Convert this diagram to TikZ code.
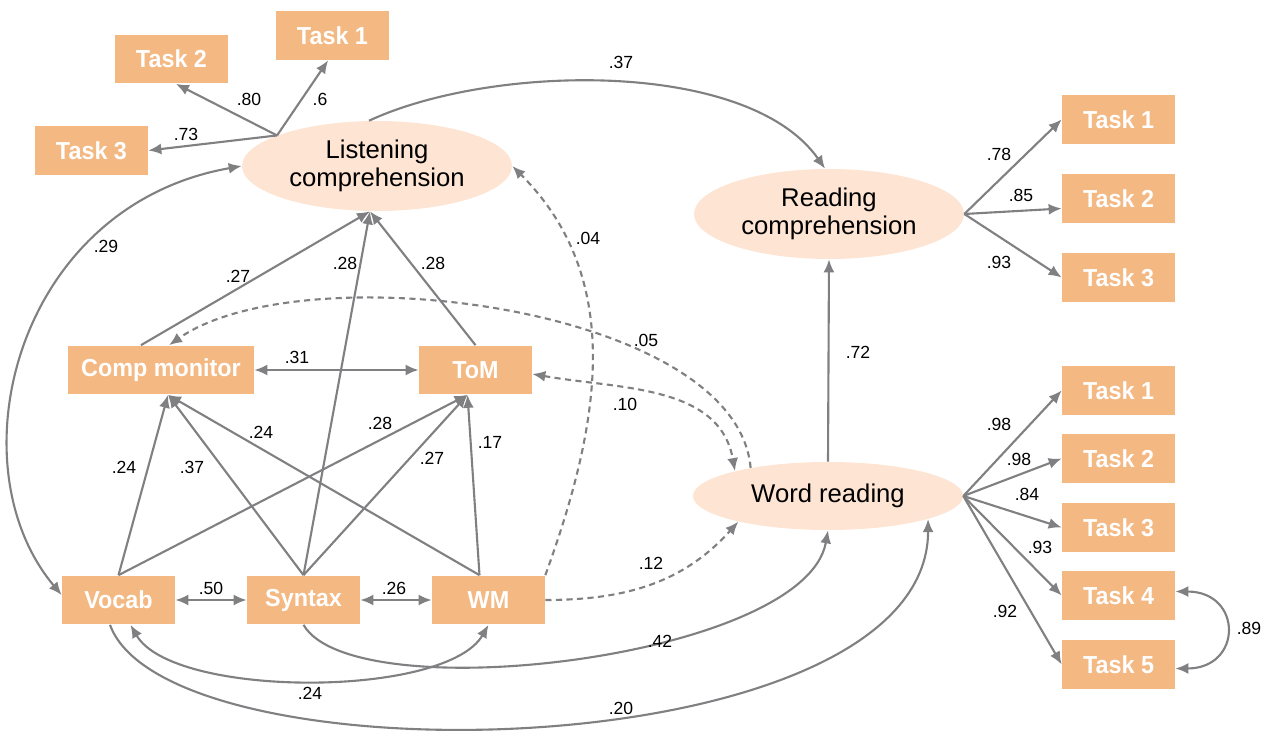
\documentclass[tikz,border=0pt]{standalone}
\usepackage{fontspec}
\setmainfont{Liberation Sans}
\newfontfamily\boxfont{Liberation Sans}[FakeStretch=0.95]
\usetikzlibrary{arrows.meta,shapes.geometric}
\definecolor{boxorange}{RGB}{244,184,130}
\definecolor{latentfill}{RGB}{253,228,211}
\definecolor{linegray}{RGB}{128,127,130}
\tikzset{
  task/.style={fill=boxorange, text=white, font=\boxfont\bfseries\fontsize{14}{16}\selectfont,
    minimum width=2.26cm, minimum height=0.98cm, inner sep=0pt},
  latent/.style={ellipse, fill=latentfill, minimum width=5.4cm, minimum height=1.8cm,
    inner sep=0pt, align=center, font=\fontsize{14.6}{15.8}\selectfont},
  link/.style={draw=linegray, line width=1.2pt, -{Latex[length=2.6mm,width=2.2mm]}},
  cov/.style={link, {Latex[length=2.6mm,width=2.2mm]}-{Latex[length=2.6mm,width=2.2mm]}},
  dlink/.style={link, dash pattern=on 3.5pt off 2.5pt},
  dcov/.style={cov, dash pattern=on 3.5pt off 2.5pt},
  coef/.style={font=\fontsize{10}{12}\selectfont, inner sep=1pt}
}
\begin{document}
\begin{tikzpicture}[x=0.02cm,y=-0.02cm]
  \useasboundingbox (0,0) rectangle (1271,736);

  \node[task] (lt1) at (332.5,35.5) {Task 1};
  \node[task] (lt2) at (171.5,59) {Task 2};
  \node[task] (lt3) at (91.5,150.5) {Task 3};
  \node[latent] (lc) at (377,166) {Listening\\comprehension};
  \node[latent] (rc) at (829,214) {Reading\\comprehension};
  \node[latent, minimum height=1.36cm] (wr) at (828,496) {Word reading};
  \node[task, minimum width=3.72cm] (cm) at (161,370) {Comp monitor};
  \node[task] (tom) at (475.5,370) {ToM};
  \node[task] (vocab) at (118.5,600) {Vocab};
  \node[task] (syntax) at (303.5,600) {Syntax};
  \node[task] (wm) at (488.5,600) {WM};
  \node[task] (rt1) at (1118.5,119.5) {Task 1};
  \node[task] (rt2) at (1118.5,198.5) {Task 2};
  \node[task] (rt3) at (1118.5,277.5) {Task 3};
  \node[task] (wt1) at (1118.5,390.5) {Task 1};
  \node[task] (wt2) at (1118.5,458.5) {Task 2};
  \node[task] (wt3) at (1118.5,527.5) {Task 3};
  \node[task] (wt4) at (1118.5,595.5) {Task 4};
  \node[task] (wt5) at (1118.5,664.5) {Task 5};

  \coordinate (lcfan) at (lc.163);
  \coordinate (lcin) at ([xshift=-0.14cm]lc.south);
  \coordinate (cmin) at ([xshift=0.14cm]cm.south);
  \coordinate (tomin) at ([xshift=-0.16cm]tom.south);
  \coordinate (wmout) at ([xshift=-0.18cm]wm.north);

  \draw[link] (lcfan) -- (lt1.-100);
  \draw[link] (lcfan) -- (lt2.-80);
  \draw[link] (lcfan) -- (lt3.east);
  \draw[link] (lc.100) to[out=25,in=125,looseness=0.75] (rc.95);
  \draw[cov] (lc.west) to[out=190,in=130,out distance=4.6cm,in distance=3.4cm] (vocab.175);

  \draw[link] ([xshift=-0.4cm]cm.north) -- (lcin);
  \draw[link] (syntax.north) -- (lcin);
  \draw[link] (tom.north) -- (lcin);
  \draw[cov] (cm.east) -- (tom.west);

  \draw[link] (vocab.north) -- (cmin);
  \draw[link] (syntax.north) -- (cmin);
  \draw[link] (wmout) -- (cmin);
  \draw[link] (vocab.north) -- (tomin);
  \draw[link] (syntax.north) -- (tomin);
  \draw[link] (wmout) -- (tomin);
  \draw[cov] (vocab.east) -- (syntax.west);
  \draw[cov] (syntax.east) -- (wm.west);

  \draw[cov] ([xshift=0.24cm]vocab.south) to[out=-60,in=-120,distance=1.7cm] (wm.south);
  \draw[link] ([xshift=-0.17cm]vocab.south) to[out=-70,in=-90,out distance=3.4cm,in distance=5cm] (wr.-13);
  \draw[link] (syntax.south) to[out=-60,in=-100,out distance=2cm,in distance=2.6cm] (wr.south);

  \draw[dlink] (wm.north east) to[out=70,in=-45] (lc.east);
  \draw[dlink] (wm.east) to[out=0,in=228] (wr.196);
  \draw[dlink] (wr.160) to[out=95,in=35,looseness=0.7] (cm.72);
  \draw[dcov] (tom.-4) to[out=-10,in=100] (wr.165);

  \draw[link] (wr.north) -- (rc.south);
  \draw[link] (rc.east) -- (rt1.west);
  \draw[link] (rc.east) -- (rt2.190);
  \draw[link] (rc.east) -- (rt3.west);
  \draw[link] (wr.east) -- (wt1.west);
  \draw[link] (wr.east) -- (wt2.west);
  \draw[link] (wr.east) -- (wt3.west);
  \draw[link] (wr.east) -- (wt4.west);
  \draw[link] (wr.east) -- (wt5.west);
  \draw[cov] (wt4.4) to[out=0,in=0,looseness=2.25] (wt5.-4);

  \node[coef] (lLt1) at (320,99) {.6};
  \node[coef] (lLt2) at (249,99) {.80};
  \node[coef] (lLt3) at (186,134) {.73};
  \node[coef] (lLcRc) at (621,62) {.37};
  \node[coef] (lLcVo) at (106,246) {.29};
  \node[coef] (lCmLc) at (238,276) {.27};
  \node[coef] (lSyLc) at (345,263) {.28};
  \node[coef] (lTomLc) at (433,263) {.28};
  \node[coef] (lWmLc) at (588,238) {.04};
  \node[coef] (lCmTom) at (297,357) {.31};
  \node[coef] (lWrCm) at (646,340) {.05};
  \node[coef] (lTomWr) at (625,404) {.10};
  \node[coef] (lVoCm) at (124,467) {.24};
  \node[coef] (lSyCm) at (192,467) {.37};
  \node[coef] (lWmCm) at (261,432) {.24};
  \node[coef] (lVoTom) at (380,423) {.28};
  \node[coef] (lSyTom) at (432,458) {.27};
  \node[coef] (lWmTom) at (490,442) {.17};
  \node[coef] (lVoSy) at (211,588) {.50};
  \node[coef] (lSyWm) at (394,588) {.26};
  \node[coef] (lVoWm) at (310,693) {.24};
  \node[coef] (lVoWr) at (621,708) {.20};
  \node[coef] (lSyWr) at (660,641) {.42};
  \node[coef] (lWmWr) at (651,563) {.12};
  \node[coef] (lWrRc) at (858,352) {.72};
  \node[coef] (lRt1) at (999,154) {.78};
  \node[coef] (lRt2) at (1021,195) {.85};
  \node[coef] (lRt3) at (999,262) {.93};
  \node[coef] (lWt1) at (999,424) {.98};
  \node[coef] (lWt2) at (1019,459) {.98};
  \node[coef] (lWt3) at (1027,494) {.84};
  \node[coef] (lWt4) at (1040,547) {.93};
  \node[coef] (lWt5) at (1005,611) {.92};
  \node[coef] (lWt45) at (1249,628) {.89};
\end{tikzpicture}
\end{document}
